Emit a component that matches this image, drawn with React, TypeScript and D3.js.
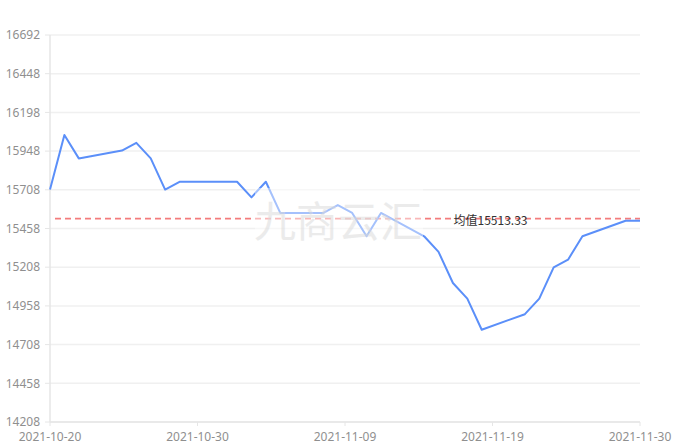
import React from "react";
import * as d3 from "d3";

const dates = [
  "2021-10-20", "2021-10-21", "2021-10-22", "2021-10-25", "2021-10-26", "2021-10-27",
  "2021-10-28", "2021-10-29", "2021-11-01", "2021-11-02", "2021-11-03", "2021-11-04",
  "2021-11-05", "2021-11-08", "2021-11-09", "2021-11-10", "2021-11-11", "2021-11-12",
  "2021-11-15", "2021-11-16", "2021-11-17", "2021-11-18", "2021-11-19", "2021-11-22",
  "2021-11-23", "2021-11-24", "2021-11-25", "2021-11-26", "2021-11-29", "2021-11-30",
];
const prices = [
  15700, 16050, 15900, 15950, 16000, 15900, 15700, 15750, 15750, 15750, 15650, 15750,
  15550, 15550, 15600, 15550, 15400, 15550, 15400, 15300, 15100, 15000, 14800, 14900,
  15000, 15200, 15250, 15400, 15500, 15500,
];
const yTickLabels = [
  "14208", "14458", "14708", "14958", "15208", "15458", "15708", "15948", "16198", "16448", "16692",
];
const yMin = 14208;
const yMax = 16692;
const xTickCount = 5;
const meanLabelPrefix = "均值";
const watermarkText = "九商云汇";

const W = 677;
const H = 447;
const left = 50;
const right = 640;
const top = 35;
const bottom = 422;

export default function App() {
  const parse = d3.utcParse("%Y-%m-%d");
  const fmt = d3.utcFormat("%Y-%m-%d");
  const parsed = dates.map((d) => parse(d) as Date);
  const x = d3.scaleUtc().domain([parsed[0], parsed[parsed.length - 1]]).range([left, right]);
  const y = d3.scaleLinear().domain([yMin, yMax]).range([bottom, top]);

  const yTickValues = yTickLabels.map((_, i) => yMin + (i * (yMax - yMin)) / (yTickLabels.length - 1));
  const t0 = parsed[0].getTime();
  const t1 = parsed[parsed.length - 1].getTime();
  const xTicks = d3.range(xTickCount).map((i) => new Date(t0 + (i * (t1 - t0)) / (xTickCount - 1)));

  const line = d3
    .line<number>()
    .x((_, i) => x(parsed[i]))
    .y((v) => y(v));

  const mean = d3.mean(prices) as number;
  const meanY = y(mean);
  const font = "'Noto Sans', 'Noto Sans CJK SC', sans-serif";

  return (
    <svg
      width={W}
      height={H}
      style={{ position: "absolute", left: 0, top: 0, background: "#fff" }}
      fontFamily={font}
    >
      {/* grid lines */}
      {yTickValues.map((v, i) => (
        <line key={"g" + i} x1={left} x2={right} y1={y(v)} y2={y(v)} stroke="#f0f0f0" strokeWidth={1.5} />
      ))}
      {/* y axis */}
      <line x1={left} x2={left} y1={top} y2={bottom} stroke="#e6e6e6" strokeWidth={1.5} />
      {yTickValues.map((v, i) => (
        <g key={"yt" + i}>
          <line x1={left - 5} x2={left} y1={y(v)} y2={y(v)} stroke="#e6e6e6" strokeWidth={1} />
          <text x={left - 10} y={y(v)} dy="0.35em" textAnchor="end" fontSize={12} fill="#8f8f8f">
            {yTickLabels[i]}
          </text>
        </g>
      ))}
      {/* x axis */}
      <line x1={left} x2={right} y1={bottom} y2={bottom} stroke="#e6e6e6" strokeWidth={1.5} />
      {xTicks.map((t, i) => (
        <g key={"xt" + i}>
          <line x1={x(t)} x2={x(t)} y1={bottom} y2={bottom + 4} stroke="#e6e6e6" strokeWidth={1} />
          <text x={x(t)} y={bottom + 15} dy="0.35em" textAnchor="middle" fontSize={12} fill="#8f8f8f">
            {fmt(t)}
          </text>
        </g>
      ))}
      {/* mean line */}
      <line
        x1={left + 5}
        x2={right}
        y1={meanY}
        y2={meanY}
        stroke="#f47c7c"
        strokeWidth={1.8}
        strokeDasharray="6 4"
      />
      {/* price line */}
      <path d={line(prices) || ""} fill="none" stroke="#5b8ff9" strokeWidth={2} strokeLinejoin="round" />
      {/* watermark */}
      <rect x={255} y={188} width={168} height={64} fill="#fff" opacity={0.45} />
      <text
        x={338}
        y={222}
        dy="0.35em"
        textAnchor="middle"
        fontSize={42}
        fill="#d9d9d9"
        opacity={0.5}
        fontFamily="'Noto Sans CJK SC', sans-serif"
      >
        {watermarkText}
      </text>
      {/* mean label */}
      <text
        x={x(xTicks[3]) - 2}
        y={meanY + 2}
        dy="0.35em"
        textAnchor="middle"
        fontSize={12}
        fill="#333"
        fontFamily="'Noto Sans CJK SC', sans-serif"
      >
        {meanLabelPrefix + mean.toFixed(2)}
      </text>
    </svg>
  );
}
